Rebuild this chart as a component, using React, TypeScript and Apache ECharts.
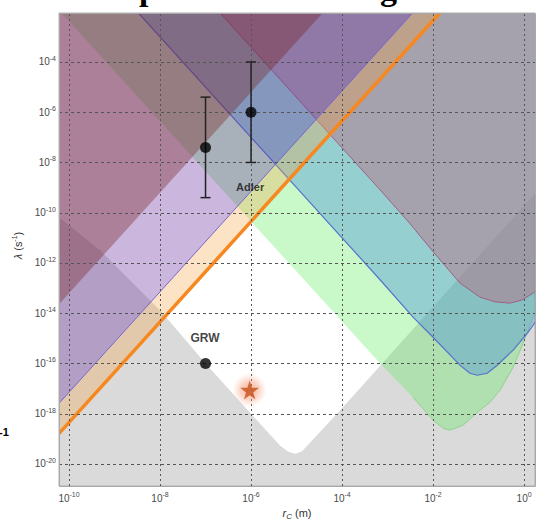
import React, { useEffect, useRef } from 'react';
import * as echarts from 'echarts';

// All values are log10: x = log10(r_C / m), y = log10(lambda / s^-1)
const X_MIN = -10.22;
const X_MAX = 0.24;
const Y_MIN = -20.88;
const Y_MAX = -2.05;
const xTicks = [-10, -8, -6, -4, -2, 0];
const yTicks = [-20, -18, -16, -14, -12, -10, -8, -6, -4];

// theoretical lower bound (gray below, white above)
const theoryBound = [
  [-11, -9.09], [-10.22, -10.18], [-9.32, -11.49], [-7.96, -13.96], [-7, -16], [-6, -18],
  [-5.36, -19.28], [-5.18, -19.52], [-5.03, -19.6], [-4.88, -19.5], [-4.04, -17.86], [1, -7.7],
];
// experimental exclusion curves (region above each curve is excluded)
const greenBound = [
  [-12, 1.6], [-3.16, -16.0], [-2.44, -17.35], [-2, -18.26], [-1.78, -18.58], [-1.63, -18.66],
  [-1.34, -18.46], [-0.97, -17.86], [-0.75, -17.55], [-0.53, -17.07], [-0.24, -16.15],
  [-0.02, -15.2], [0.2, -14.16], [0.6, -12.3],
];
const blueBound = [
  [-12, 5], [-3.16, -12.68], [-2.44, -14.16], [-2, -14.96], [-1.41, -16.07], [-1.19, -16.39],
  [-1.03, -16.47], [-0.81, -16.39], [-0.59, -16.07], [-0.24, -15.47], [0.07, -14.8],
  [0.2, -14.48], [0.6, -13.4],
];
const mauveBound = [
  [-9, 2.6], [-3.16, -9.1], [-2.5, -10.45], [-2, -11.55], [-1.41, -12.8], [-0.97, -13.36],
  [-0.64, -13.55], [-0.31, -13.6], [-0.05, -13.48], [0.2, -13.2], [0.6, -12.6],
];
const orangeLine = [[-12, -22.35], [1, 3.65]];
const purpleLine = [[-12, -21.15], [1, 4.85]];
const redLine = [[-12, -17.2], [1, 8.8]];

// Adler values: [r_C, lambda, low, high]
const adlerPoints = [
  [-7, -7.4, -9.4, -5.4],
  [-6, -6, -8, -4],
];
const grwPoint = [-7, -16];
const starPoint = [-6.03, -17.06];
const adlerLabelAt = [-6.02, -8.98];
const grwLabelAt = [-7.01, -15.0];

const FONT = '"Liberation Sans", Arial, Helvetica, sans-serif';
const LABEL_COLOR = '#4a4a4a';

const supRich = {
  b: { fontSize: 10, lineHeight: 14, color: LABEL_COLOR, fontFamily: FONT },
  s: { fontSize: 7, lineHeight: 7, verticalAlign: 'top', color: LABEL_COLOR, fontFamily: FONT },
};

function region(boundary: number[][], closing: number[][], fill: string, stroke?: string, lw = 1, strokePts?: number[][]) {
  const poly = boundary.concat(closing);
  const line = strokePts || boundary;
  return {
    type: 'custom',
    clip: true,
    silent: true,
    data: [[X_MIN, Y_MIN]],
    renderItem: (_p: any, api: any) => {
      const children: any[] = [
        { type: 'polygon', shape: { points: poly.map((p) => api.coord(p)) }, style: { fill } },
      ];
      if (stroke) {
        children.push({
          type: 'polyline',
          shape: { points: line.map((p) => api.coord(p)) },
          style: { stroke, lineWidth: lw, fill: null },
        });
      }
      return { type: 'group', children };
    },
  };
}

function lineSeries(pts: number[][], stroke: string, lw: number) {
  return {
    type: 'custom',
    clip: true,
    silent: true,
    data: [[X_MIN, Y_MIN]],
    renderItem: (_p: any, api: any) => ({
      type: 'polyline',
      shape: { points: pts.map((p) => api.coord(p)) },
      style: { stroke, lineWidth: lw, fill: null },
    }),
  };
}

export default function App() {
  const ref = useRef<HTMLDivElement>(null);
  useEffect(() => {
    const chart = echarts.init(ref.current as HTMLDivElement, null, { renderer: 'svg' });
    const option: any = {
      animation: false,
      grid: {
        left: 59, right: 6, top: 13, bottom: 35,
        outerBoundsMode: 'none', containLabel: false,
        show: true, backgroundColor: '#dadada', borderColor: '#b0b0b0', borderWidth: 1,
      },
      xAxis: {
        type: 'value', min: X_MIN, max: X_MAX,
        axisLine: { show: false }, axisTick: { show: false }, splitLine: { show: false },
        axisLabel: {
          customValues: xTicks,
          formatter: (v: number) => `{b|10}{s|${v}}`,
          rich: supRich, margin: 5,
        },
        name: '{i|r}{sub|C}{n| (m)}',
        nameLocation: 'middle', nameGap: 20,
        nameTextStyle: {
          rich: {
            i: { fontStyle: 'italic', fontSize: 11, lineHeight: 14, color: '#333', fontFamily: FONT },
            sub: { fontStyle: 'italic', fontSize: 8, lineHeight: 8, verticalAlign: 'bottom', color: '#333', fontFamily: FONT },
            n: { fontSize: 11, lineHeight: 14, color: '#333', fontFamily: FONT },
          },
        },
      },
      yAxis: {
        type: 'value', min: Y_MIN, max: Y_MAX,
        axisLine: { show: false }, axisTick: { show: false }, splitLine: { show: false },
        axisLabel: {
          customValues: yTicks,
          formatter: (v: number) => `{b|10}{s|${v}}`,
          rich: supRich, margin: 3,
        },
        name: '{i|λ}{n| (s}{s|-1}{n|)}',
        nameLocation: 'middle', nameGap: 26, nameRotate: 90,
        nameTextStyle: {
          padding: [0, 0, 0, 8],
          rich: {
            i: { fontStyle: 'italic', fontSize: 11, lineHeight: 14, color: '#333', fontFamily: FONT },
            n: { fontSize: 11, lineHeight: 14, color: '#333', fontFamily: FONT },
            s: { fontSize: 7, lineHeight: 7, verticalAlign: 'top', color: '#333', fontFamily: FONT },
          },
        },
      },
      graphic: [
        { type: 'text', x: 139, y: -12, style: { text: 'p', font: 'bold 34px "Liberation Serif", serif', fill: '#000', verticalAlign: 'middle' } },
        { type: 'text', x: 380, y: -12, style: { text: 'g', font: 'bold 34px "Liberation Serif", serif', fill: '#000', verticalAlign: 'middle' } },
        { type: 'text', x: -1, y: 432, style: { text: '-1', font: 'bold 11px "Liberation Sans", Arial', fill: '#000', verticalAlign: 'middle' } },
      ],
      series: [
        region(theoryBound, [[1, 3], [-11, 3]], '#ffffff'),
        region(greenBound, [[0.6, 3], [-12, 3]], 'rgba(90,235,90,0.33)', 'rgba(100,200,100,0.55)', 1, greenBound.slice(2)),
        region(blueBound, [[0.6, 6], [-12, 6]], 'rgba(72,144,220,0.4)', '#5574cc', 1.2),
        region(mauveBound, [[0.6, 4], [-9, 4]], 'rgba(181,115,138,0.5)', '#a0608a', 1),
        region(purpleLine, [[-12, 6]], 'rgba(106,46,158,0.35)'),
        region(redLine, [[-12, 9]], 'rgba(117,28,27,0.35)'),
        region(orangeLine, [purpleLine[1], purpleLine[0]], 'rgba(248,162,62,0.3)'),
        lineSeries(purpleLine, '#7766cc', 1),
        lineSeries(orangeLine, '#f7871f', 3.5),
        {
          type: 'custom', silent: true, clip: true,
          data: xTicks.map((v) => [v, Y_MIN]),
          renderItem: (_p: any, api: any) => {
            const v = api.value(0);
            const a = api.coord([v, Y_MIN]);
            const b = api.coord([v, Y_MAX]);
            const x = Math.round(a[0]) + 0.5;
            return { type: 'line', shape: { x1: x, y1: a[1], x2: x, y2: b[1] }, style: { stroke: '#555', lineWidth: 1, lineDash: [2, 3] } };
          },
        },
        {
          type: 'custom', silent: true, clip: true,
          data: yTicks.map((v) => [X_MIN, v]),
          renderItem: (_p: any, api: any) => {
            const v = api.value(1);
            const a = api.coord([X_MIN, v]);
            const b = api.coord([X_MAX, v]);
            const y = Math.round(a[1]) + 0.5;
            return { type: 'line', shape: { x1: a[0], y1: y, x2: b[0], y2: y }, style: { stroke: '#555', lineWidth: 1, lineDash: [3, 3] } };
          },
        },
        {
          type: 'custom', silent: true,
          data: [[X_MIN, Y_MIN]],
          renderItem: (_p: any, api: any) => {
            const a = api.coord([X_MIN, Y_MAX]);
            const b = api.coord([X_MAX, Y_MIN]);
            return {
              type: 'rect',
              shape: { x: Math.round(a[0]) + 0.5, y: Math.round(a[1]) + 0.5, width: Math.round(b[0] - a[0]), height: Math.round(b[1] - a[1]) },
              style: { stroke: '#a8a8a8', lineWidth: 1, fill: null },
            };
          },
        },
        {
          type: 'custom', silent: true,
          data: adlerPoints.map((d) => [d[0], d[2], d[3]]),
          renderItem: (_p: any, api: any) => {
            const x = api.value(0);
            const lo = api.coord([x, api.value(1)]);
            const hi = api.coord([x, api.value(2)]);
            const st = { stroke: '#222', lineWidth: 1.5 };
            return {
              type: 'group',
              children: [
                { type: 'line', shape: { x1: lo[0], y1: lo[1], x2: hi[0], y2: hi[1] }, style: st },
                { type: 'line', shape: { x1: lo[0] - 5, y1: lo[1], x2: lo[0] + 5, y2: lo[1] }, style: st },
                { type: 'line', shape: { x1: hi[0] - 5, y1: hi[1], x2: hi[0] + 5, y2: hi[1] }, style: st },
              ],
            };
          },
        },
        {
          type: 'scatter', silent: true, symbolSize: 11,
          itemStyle: { color: '#000' },
          data: [...adlerPoints.map((d) => [d[0], d[1]]), grwPoint],
        },
        {
          type: 'scatter', silent: true, symbol: 'circle', symbolSize: 34,
          itemStyle: {
            color: {
              type: 'radial', x: 0.5, y: 0.5, r: 0.5,
              colorStops: [
                { offset: 0, color: 'rgba(242,120,70,0.75)' },
                { offset: 0.55, color: 'rgba(245,140,100,0.45)' },
                { offset: 1, color: 'rgba(250,170,140,0)' },
              ],
            },
          },
          data: [starPoint],
        },
        {
          type: 'scatter', silent: true,
          symbol: 'path://M50,0 L61.8,35.1 L98.9,35.1 L68.8,56.7 L79.4,91 L50,70 L20.6,91 L31.2,56.7 L1.1,35.1 L38.2,35.1 Z',
          symbolSize: 19,
          itemStyle: { color: '#c4521d' },
          data: [starPoint],
        },
        {
          type: 'scatter', silent: true, symbolSize: 1,
          itemStyle: { color: 'rgba(0,0,0,0)' },
          label: { show: true, position: 'inside', formatter: '{b}', color: '#111', fontWeight: 'bold', fontFamily: FONT, fontSize: 11 },
          data: [
            { name: 'Adler', value: adlerLabelAt },
            { name: 'GRW', value: grwLabelAt, label: { fontSize: 12 } },
          ],
        },
      ],
    };
    chart.setOption(option);
    return () => chart.dispose();
  }, []);
  return <div ref={ref} style={{ position: 'absolute', left: 0, top: 0, width: 541, height: 521 }} />;
}
